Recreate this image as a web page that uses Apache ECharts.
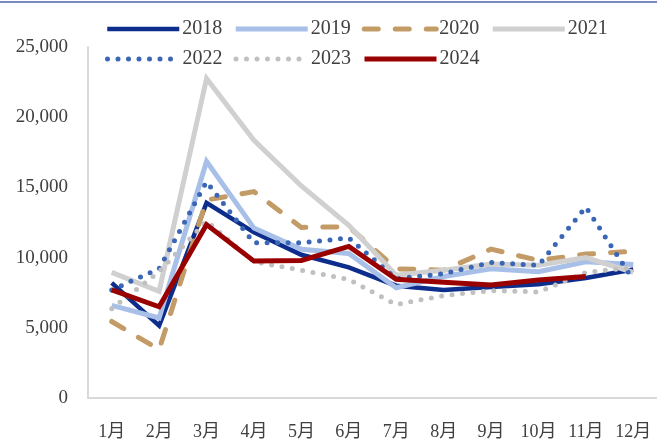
<!DOCTYPE html>
<html><head><meta charset="utf-8">
<script src="https://cdn.jsdelivr.net/npm/echarts@6/dist/echarts.min.js"></script>
<style>html,body{margin:0;padding:0;background:#fff}#c{width:657px;height:441px}</style>
</head><body><div id="c"></div>
<script>
const months = ['1月','2月','3月','4月','5月','6月','7月','8月','9月','10月','11月','12月'];
const yTicks = [0, 5000, 10000, 15000, 20000, 25000];
const s2018 = [8200, 5150, 13900, 11800, 10200, 9300, 8000, 7700, 7900, 8100, 8550, 9150];
const s2019 = [6600, 5700, 16850, 12100, 10600, 10300, 7850, 8650, 9200, 9000, 9700, 9500];
const s2020 = [5450, 3450, 14100, 14700, 12150, 12200, 9200, 9100, 10600, 9800, 10250, 10450];
const s2021 = [8950, 7600, 22750, 18350, 15100, 12300, 8750, 9100, 9550, 9450, 10000, 8950];
const s2022 = [7700, 9200, 15400, 11050, 11050, 11400, 8500, 8850, 9650, 9450, 13600, 8400];
const s2023 = [6350, 9000, 12600, 9700, 9100, 8450, 6650, 7300, 7650, 7550, 8950, 9300];
const s2024 = [7700, 6500, 12350, 9750, 9800, 10800, 8450, 8250, 8050, 8400, 8650];

const serif = '"Liberation Serif","Noto Sans CJK SC",serif';
function mk(name, data, color, width, type, cap) {
  return {
    name, type: 'line', data, symbol: 'none', smooth: false,
    lineStyle: { color, width, type: type || 'solid', cap: cap || 'butt', join: 'miter' },
    itemStyle: { color },
    emphasis: { disabled: true }
  };
}
const legendCommon = {
  left: 100, itemWidth: 72, itemHeight: 14, itemGap: 11,
  itemStyle: { opacity: 0, borderWidth: 0 },
  lineStyle: { width: 'inherit', type: 'inherit', cap: 'inherit' },
  textStyle: { fontFamily: serif, fontSize: 20, color: '#404040', padding: [0,0,0,-2] }
};
const chart = echarts.init(document.getElementById('c'));
chart.setOption({
  animation: false,
  backgroundColor: '#fff',
  grid: { left: 88, right: 0, top: 47, bottom: 42 },
  graphic: [{ type: 'rect', left: 0, top: 1, shape: { width: 657, height: 2 }, style: { fill: '#7a8bc2' } }],
  legend: [
    Object.assign({ data: ['2018','2019','2020','2021'], top: 14 }, legendCommon),
    Object.assign({ data: ['2022','2023','2024'], top: 44 }, legendCommon)
  ],
  xAxis: {
    type: 'category', data: months, boundaryGap: true,
    axisLine: { lineStyle: { color: '#d9d9d9', width: 2 } },
    axisTick: { show: false },
    axisLabel: { fontFamily: serif, fontSize: 18, color: '#404040', margin: 25 }
  },
  yAxis: {
    type: 'value', min: yTicks[0], max: yTicks[yTicks.length-1], interval: 5000,
    axisLine: { show: true, lineStyle: { color: '#d9d9d9', width: 2 } },
    axisTick: { show: false },
    splitLine: { show: false },
    axisLabel: { fontFamily: serif, fontSize: 19, color: '#404040', margin: 20,
      formatter: v => v.toLocaleString('en-US') }
  },
  series: [
    mk('2018', s2018, '#0c2d8c', 4.5),
    mk('2019', s2019, '#a8bfe8', 5),
    mk('2020', s2020, '#c29b66', 5, [14, 17], 'round'),
    mk('2021', s2021, '#d0d0d0', 5),
    mk('2022', s2022, '#3a66b5', 5, [0, 10.5], 'round'),
    mk('2023', s2023, '#c0c0c0', 5, [0, 10.5], 'round'),
    mk('2024', s2024, '#990000', 5)
  ]
});
</script></body></html>
